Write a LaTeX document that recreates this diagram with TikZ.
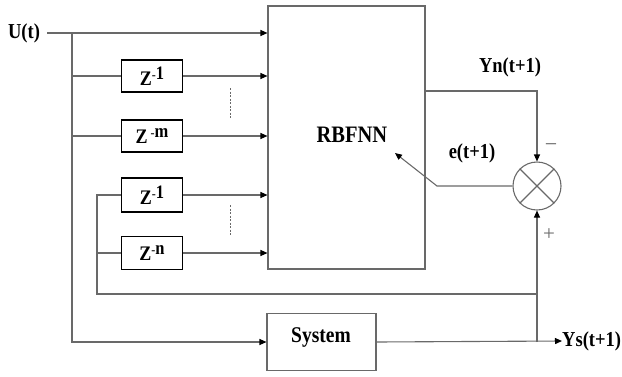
\documentclass[tikz,border=0pt]{standalone}
\usepackage{fontspec}
\usepackage{graphicx}
\setmainfont{Liberation Serif}
\usetikzlibrary{arrows.meta}
\definecolor{lgray}{RGB}{105,105,105}
\newcommand\zsup[1]{\raisebox{5pt}{{\mdseries\fontsize{12}{12}\selectfont -}{\fontsize{16.5}{16.5}\selectfont #1}}}
\newcommand\vst[1]{\scalebox{1}[1.15]{#1}}
\begin{document}
\begin{tikzpicture}[x=1pt,y=-1pt,
  ln/.style={draw=lgray, line width=1.1pt},
  arr/.style={ln, -{Triangle[length=7pt,width=6pt,color=black]}},
  zbox/.style={draw=black, line width=1.3pt, minimum width=61pt, minimum height=32pt, inner sep=0pt, font=\fontsize{18}{18}\selectfont\bfseries},
  lbl/.style={font=\fontsize{18.5}{20}\selectfont\bfseries, inner sep=0pt},
  gbox/.style={draw=lgray, line width=1.1pt, inner sep=0pt},
  dotl/.style={draw=lgray, line width=0.8pt, dash pattern=on 2pt off 1.5pt}]
\useasboundingbox (0,0) rectangle (622,376);
% blocks
\node[gbox, minimum width=157pt, minimum height=263pt] (rbf) at (346.5,137.5) {};
\node[lbl, font=\fontsize{20.5}{22}\selectfont\bfseries] (rbflbl) at (352,135) {\vst{RBFNN}};
\node[zbox] (z1) at (152,76) {\vst{Z\zsup{1}}};
\node[zbox] (zm) at (152,136) {\vst{Z\,\zsup{m}}};
\node[zbox, minimum height=34pt] (z1b) at (152,195) {\vst{Z\zsup{1}}};
\node[zbox, minimum height=33pt] (zn) at (152,253) {\vst{Z\zsup{n}}};
\node[gbox, minimum width=109pt, minimum height=57pt] (sys) at (321.5,342) {};
\node[lbl, font=\fontsize{19.5}{21}\selectfont\bfseries] (syslbl) at (321,337) {\vst{System}};
\node[draw=lgray, line width=1.1pt, circle, minimum size=48pt, inner sep=0pt] (sum) at (537,186) {};
\draw[ln] (sum.45) -- (sum.225) (sum.135) -- (sum.315);
% labels
\node[lbl] (ut) at (24,33) {\vst{U(t)}};
\node[lbl] (yn) at (510,67) {\vst{Yn(t+1)}};
\node[lbl] (e) at (472,153) {\vst{e(t+1)}};
\node[font=\fontsize{22}{22}\selectfont, text=lgray, inner sep=0pt] (minus) at (551,148) {−};
\node[font=\fontsize{21}{21}\selectfont, text=lgray, inner sep=0pt] (plus) at (549,235) {+};
\node[lbl, anchor=west] (ys) at (562,341) {\vst{Ys(t+1)}};
% coordinates
\coordinate (b1) at (72,33);
\coordinate (b2) at (97,294);
\coordinate (ync) at (537,91);
\coordinate (ebend) at (437,186);
\coordinate (etip) at (395,153);
% connectors
\draw[arr] ([xshift=7pt]ut.east) -- (ut -| rbf.west);
\draw[arr] (b1) |- (sys.west);
\draw[ln] (b1 |- z1.west) -- (z1.west);
\draw[ln] (b1 |- zm.west) -- (zm.west);
\draw[arr] (z1.east) -- (z1.east -| rbf.west);
\draw[arr] (zm.east) -- (zm.east -| rbf.west);
\draw[arr] (z1b.east) -- (z1b.east -| rbf.west);
\draw[arr] (zn.east) -- (zn.east -| rbf.west);
\draw[ln] (b2 |- zn.west) -- (zn.west);
\draw[ln] (z1b.west) -- (b2 |- z1b.west) -- (b2) -- (b2 -| sum.south);
\draw[arr] (sum.south |- sys.east) -- (sum.south);
\draw[arr] (sys.east) -- (ys.west);
\draw[arr] (rbf.east |- ync) -| (sum.north);
\draw[arr] (sum.west) -- (ebend) -- (etip);
% dotted continuation marks
\coordinate (d1a) at (230,88);
\coordinate (d1b) at (230,118);
\coordinate (d2a) at (230,205);
\coordinate (d2b) at (230,236);
\draw[dotl] (d1a) -- (d1b);
\draw[dotl] (d2a) -- (d2b);
\end{tikzpicture}
\end{document}
